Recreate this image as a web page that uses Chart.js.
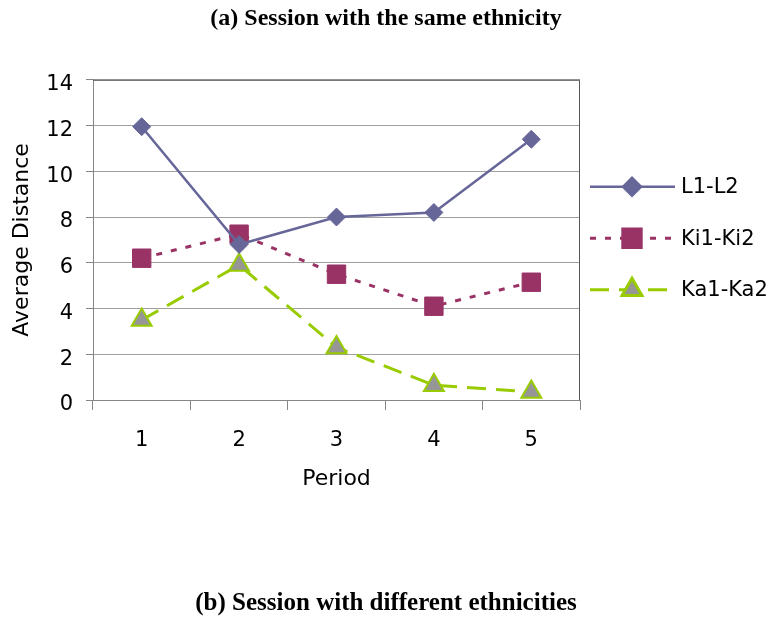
<!DOCTYPE html>
<html>
<head>
<meta charset="utf-8">
<title>Session with the same ethnicity</title>
<script src="https://cdn.jsdelivr.net/npm/chart.js@4.4.1/dist/chart.umd.min.js"></script>
<style>
  body { margin: 0; background: #fff; }
</style>
</head>
<body>
<canvas id="distanceChart" width="772" height="619"></canvas>
<script>
// data
const periods = ["1", "2", "3", "4", "5"];
const seriesNames = ["L1-L2", "Ki1-Ki2", "Ka1-Ka2"];
const l1l2 = [11.95, 6.8, 8.0, 8.2, 11.4];
const ki1ki2 = [6.2, 7.25, 5.5, 4.1, 5.15];
const ka1ka2 = [3.5, 5.9, 2.3, 0.65, 0.35];
const yTicks = [0, 2, 4, 6, 8, 10, 12, 14];

const sansFont = "'DejaVu Sans', sans-serif";
const serifFont = "'Liberation Serif', 'Times New Roman', serif";

// box around the plot area (top + right edges, like Excel)
const plotBorder = {
  id: "plotBorder",
  beforeDatasetsDraw(chart) {
    const { ctx, chartArea: a } = chart;
    ctx.save();
    ctx.strokeStyle = "#555555";
    ctx.lineWidth = 1;
    ctx.beginPath();
    ctx.moveTo(a.left, a.top + 0.5);
    ctx.lineTo(a.right - 0.5, a.top + 0.5);
    ctx.lineTo(a.right - 0.5, a.bottom);
    ctx.stroke();
    ctx.restore();
  }
};

// legend on the right with line sample + marker
const sideLegend = {
  id: "sideLegend",
  afterDraw(chart) {
    const { ctx, chartArea: a } = chart;
    const x0 = a.right + 10;
    chart.data.datasets.forEach((ds, i) => {
      const y = a.top + 107 + i * 51.5;
      ctx.save();
      ctx.strokeStyle = ds.borderColor;
      ctx.lineWidth = ds.borderWidth;
      ctx.setLineDash(ds.borderDash || []);
      ctx.beginPath();
      ctx.moveTo(x0, y);
      ctx.lineTo(x0 + 85, y);
      ctx.stroke();
      ctx.setLineDash([]);
      ctx.fillStyle = ds.pointBackgroundColor;
      ctx.strokeStyle = ds.pointBorderColor;
      Chart.helpers.drawPoint(ctx, {
        pointStyle: ds.pointStyle,
        radius: ds.pointRadius,
        borderWidth: ds.pointBorderWidth,
        rotation: 0
      }, x0 + 42, y);
      ctx.fillStyle = "#000";
      ctx.font = "21px " + sansFont;
      ctx.textBaseline = "middle";
      ctx.fillText(ds.label, x0 + 91, y + 1);
      ctx.restore();
    });
  }
};

const ctx = document.getElementById("distanceChart");

new Chart(ctx, {
  type: "line",
  data: {
    labels: periods,
    datasets: [
      {
        label: seriesNames[0],
        data: l1l2,
        borderColor: "#666699",
        borderWidth: 2.5,
        pointStyle: "rectRot",
        pointRadius: 9,
        pointBackgroundColor: "#666699",
        pointBorderColor: "#666699",
        pointBorderWidth: 1,
        tension: 0
      },
      {
        label: seriesNames[1],
        data: ki1ki2,
        borderColor: "#993366",
        borderWidth: 3,
        borderDash: [6, 9],
        pointStyle: "rect",
        pointRadius: 13,
        pointBackgroundColor: "#993366",
        pointBorderColor: "#993366",
        pointBorderWidth: 1,
        tension: 0
      },
      {
        label: seriesNames[2],
        data: ka1ka2,
        borderColor: "#99CC00",
        borderWidth: 3,
        borderDash: [19, 10],
        pointStyle: "triangle",
        pointRadius: 11.5,
        pointBackgroundColor: "#969696",
        pointBorderColor: "#99CC00",
        pointBorderWidth: 2,
        tension: 0
      }
    ]
  },
  options: {
    responsive: false,
    animation: false,
    plugins: {
      legend: { display: false },
      tooltip: { enabled: false },
      title: {
        display: true,
        text: "(a) Session with the same ethnicity",
        color: "#000",
        font: { family: serifFont, size: 24, weight: "bold" },
        padding: { top: 4, bottom: 47 }
      },
      subtitle: {
        display: true,
        position: "bottom",
        text: "(b) Session with different ethnicities",
        color: "#000",
        font: { family: serifFont, size: 25, weight: "bold" },
        padding: { top: 0, bottom: 0 }
      }
    },
    scales: {
      x: {
        offset: true,
        afterFit(scale) { scale.height = 189; },
        grid: {
          offset: true,
          drawOnChartArea: false,
          drawTicks: true,
          tickLength: 10,
          tickColor: "#868686"
        },
        border: { color: "#868686", width: 1 },
        ticks: {
          color: "#000",
          padding: 18,
          font: { family: sansFont, size: 21 }
        },
        title: {
          display: true,
          text: "Period",
          color: "#000",
          font: { family: sansFont, size: 22 },
          padding: { top: 0, bottom: 97 }
        }
      },
      y: {
        min: 0,
        max: 14,
        afterFit(scale) { scale.width = 93; },
        afterBuildTicks(scale) {
          scale.ticks = yTicks.map(v => ({ value: v }));
        },
        grid: {
          color: "#A0A0A0",
          tickColor: "#868686",
          tickLength: 7
        },
        border: { color: "#868686", width: 1 },
        ticks: {
          color: "#000",
          padding: 13,
          labelOffset: 5,
          font: { family: sansFont, size: 21 }
        },
        title: {
          display: true,
          text: "Average Distance",
          color: "#000",
          font: { family: sansFont, size: 22 },
          padding: { top: 9, bottom: 0 }
        }
      },
      // empty right-hand axis: keeps room for the legend drawn by sideLegend
      legendSpace: {
        type: "linear",
        position: "right",
        display: true,
        afterFit(scale) { scale.width = 192; },
        grid: { display: false },
        border: { display: false },
        ticks: { display: false }
      }
    }
  },
  plugins: [plotBorder, sideLegend]
});
</script>
</body>
</html>
